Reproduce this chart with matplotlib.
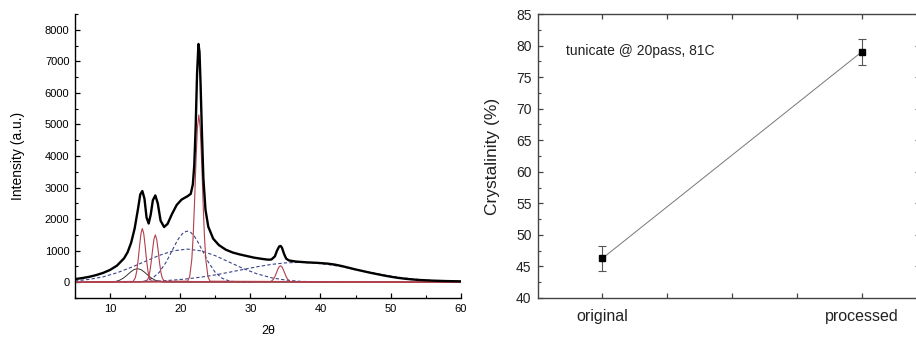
"""
plot.py - XRD pattern with peak deconvolution (left) and crystallinity
before/after processing (right).
"""

# %%
import numpy as np
import matplotlib
matplotlib.use("Agg")
import matplotlib.pyplot as plt
from matplotlib.ticker import MultipleLocator

plt.rcParams["font.family"] = ["Liberation Sans", "DejaVu Sans"]

# %%
# ---------------------------------------------------------------------------
# Data - XRD pattern
# ---------------------------------------------------------------------------
two_theta = [5, 6, 7, 8, 9, 10, 11, 12, 12.5, 13, 13.5, 14.0, 14.3, 14.6, 14.9,
             15.2, 15.5, 15.8, 16.1, 16.45, 16.8, 17.2, 17.7, 18.2, 18.8, 19.5,
             20.2, 21.0, 21.5, 21.8, 22.0, 22.2, 22.4, 22.6, 22.75, 22.9, 23.1,
             23.3, 23.6, 24.0, 24.7, 25.5, 26.5, 27.5, 28.5, 29.5, 30.5, 31.5,
             32.5, 33.0, 33.5, 33.8, 34.1, 34.3, 34.5, 34.8, 35.1, 35.5, 36.5,
             38, 39.5, 41, 42, 43, 44, 45, 46, 47, 48, 49, 50, 51, 52, 53, 54,
             56, 58, 60]
intensity = [100, 130, 170, 225, 295, 390, 530, 760, 950, 1250, 1700, 2350, 2780,
             2890, 2650, 2050, 1860, 2150, 2600, 2750, 2500, 1950, 1750, 1850,
             2150, 2450, 2620, 2720, 2800, 3100, 3700, 4900, 6600, 7550, 7300,
             6300, 4700, 3300, 2300, 1760, 1380, 1180, 1030, 940, 880, 830, 780,
             745, 715, 720, 820, 1000, 1130, 1150, 1100, 900, 750, 690, 655,
             630, 615, 590, 560, 515, 460, 405, 355, 305, 260, 215, 175, 140,
             112, 90, 72, 50, 36, 28]

# crystalline peaks (red)
peak1_x = [5, 13.3, 13.6, 13.8, 14.0, 14.2, 14.4, 14.6, 14.8, 15.0, 15.2, 15.4, 15.6, 15.9, 60]
peak1_y = [0, 26, 144, 350, 699, 1146, 1540, 1700, 1540, 1146, 699, 350, 144, 26, 0]
peak2_x = [5, 15.15, 15.45, 15.65, 15.85, 16.05, 16.25, 16.45, 16.65, 16.85, 17.05,
           17.25, 17.45, 17.75, 60]
peak2_y = [0, 23, 127, 309, 617, 1011, 1359, 1500, 1359, 1011, 617, 309, 127, 23, 0]
peak3_x = [5, 21.05, 21.35, 21.65, 21.85, 22.05, 22.25, 22.45, 22.65, 22.85, 23.05,
           23.25, 23.45, 23.65, 23.95, 24.25, 60]
peak3_y = [0, 32, 180, 716, 1473, 2581, 3848, 4892, 5300, 4892, 3848, 2581, 1473,
           716, 180, 32, 0]
peak4_x = [5, 32.7, 33.0, 33.3, 33.5, 33.7, 33.9, 34.1, 34.3, 34.5, 34.7, 34.9, 35.1,
           35.3, 35.6, 35.9, 60]
peak4_y = [0, 8, 32, 99, 180, 287, 399, 487, 520, 487, 399, 287, 180, 99, 32, 8, 0]

# small broad peak (thin black)
broad_x = [5, 9.9, 10.4, 10.9, 11.4, 11.9, 12.4, 12.9, 13.4, 13.9, 14.4, 14.9, 15.4,
           15.9, 16.4, 16.9, 17.4, 17.9, 60]
broad_y = [0, 4, 12, 30, 68, 132, 221, 320, 400, 430, 400, 320, 221, 132, 68, 30,
           12, 4, 0]

# amorphous contributions (dashed)
amorph1_x = [14, 15, 16, 17, 18, 19, 19.5, 20, 20.5, 21, 21.5, 22, 22.5, 23, 24, 25,
             26, 27, 28, 30]
amorph1_y = [10, 39, 122, 310, 640, 1071, 1284, 1461, 1579, 1620, 1579, 1461, 1284,
             1071, 640, 310, 122, 39, 10, 0]
amorph2_x = [5, 7, 9, 11, 13, 15, 17, 19, 21, 23, 25, 27, 29, 31, 33, 35, 37, 39, 41]
amorph2_y = [40, 90, 170, 300, 470, 660, 850, 995, 1050, 993, 841, 637, 432, 262,
             142, 69, 30, 12, 0]
amorph3_x = [12, 14, 17, 19, 21, 23, 25, 27, 29, 31, 33, 35, 37, 39, 41, 43, 45, 47,
             49, 51, 53, 55, 57, 60]
amorph3_y = [0, 16, 40, 67, 107, 162, 232, 316, 405, 491, 564, 613, 630, 613, 564,
             491, 405, 316, 232, 162, 107, 67, 40, 16]

# ---------------------------------------------------------------------------
# Data - crystallinity
# ---------------------------------------------------------------------------
samples = ["original", "processed"]
crystallinity = [46.3, 79.0]
crystallinity_err = [2.0, 2.0]

RED = "#b0404c"
BLUE = "#3a4488"

# %%
fig = plt.figure(figsize=(9.16, 3.41), dpi=100)

# ---------------------------------------------------------------------------
# Left: XRD pattern
# ---------------------------------------------------------------------------
ax1 = fig.add_axes([0.0819, 0.1261, 0.4211, 0.8328])
dash = (0, (3, 2))
for xs, ys in [(amorph1_x, amorph1_y), (amorph2_x, amorph2_y), (amorph3_x, amorph3_y)]:
    ax1.plot(xs, ys, color=BLUE, lw=0.8, linestyle=dash)
ax1.plot(broad_x, broad_y, color="#333333", lw=0.7)
for xs, ys in [(peak1_x, peak1_y), (peak2_x, peak2_y), (peak3_x, peak3_y), (peak4_x, peak4_y)]:
    ax1.plot(xs, ys, color=RED, lw=0.8)
ax1.plot(two_theta, intensity, color="black", lw=1.7)

ax1.set_xlim(5, 60)
ax1.set_ylim(-500, 8500)
ax1.xaxis.set_minor_locator(MultipleLocator(5))
ax1.yaxis.set_minor_locator(MultipleLocator(500))
ax1.set_xticks(np.arange(10, 61, 10))
ax1.set_yticks(np.arange(0, 8001, 1000))
ax1.spines["top"].set_visible(False)
ax1.spines["right"].set_visible(False)
for s in ("left", "bottom"):
    ax1.spines[s].set_linewidth(1.0)
ax1.tick_params(which="both", direction="in", labelsize=8, pad=4)
ax1.tick_params(which="major", length=3.5, width=0.9)
ax1.tick_params(which="minor", length=2, width=0.8)
ax1.set_xlabel("2θ", fontsize=9)
ax1.set_ylabel("Intensity (a.u.)", fontsize=10)
ax1.xaxis.set_label_coords(0.5, -0.095)
ax1.yaxis.set_label_coords(-0.13, 0.5)

# ---------------------------------------------------------------------------
# Right: crystallinity
# ---------------------------------------------------------------------------
ax2 = fig.add_axes([0.587, 0.1261, 0.4174, 0.8328])
xpos = [1, 5]
ax2.plot(xpos, crystallinity, color="#777777", lw=0.7, zorder=1)
ax2.errorbar(xpos, crystallinity, yerr=crystallinity_err, fmt="s", color="black",
             ms=4.5, ecolor="#555555", elinewidth=0.8, capsize=2.8, capthick=0.8,
             zorder=2)
ax2.text(0.073, 0.871, "tunicate @ 20pass, 81C", transform=ax2.transAxes,
         fontsize=10, va="center", ha="left", color="#222222")

ax2.set_xlim(0, 5.9)
ax2.set_ylim(40, 85)
ax2.set_xticks([1, 2, 3, 4, 5])
ax2.set_xticklabels([samples[0], "", "", "", samples[1]])
ax2.yaxis.set_major_locator(MultipleLocator(5))
ax2.yaxis.set_minor_locator(MultipleLocator(2.5))
for s in ax2.spines.values():
    s.set_color("#444444")
    s.set_linewidth(1.0)
ax2.tick_params(which="both", direction="in", top=True, right=True, colors="#444444",
                labelcolor="#222222")
ax2.tick_params(axis="x", which="major", length=3.5, width=0.9, labelsize=11.5, pad=8)
ax2.tick_params(axis="y", which="major", length=3.5, width=0.9, labelsize=10, pad=4.5)
ax2.tick_params(which="minor", length=2, width=0.8)
ax2.set_ylabel("Crystalinity (%)", fontsize=12.5, color="#222222")
ax2.yaxis.set_label_coords(-0.098, 0.5)

fig.savefig("out.png", dpi=100)
